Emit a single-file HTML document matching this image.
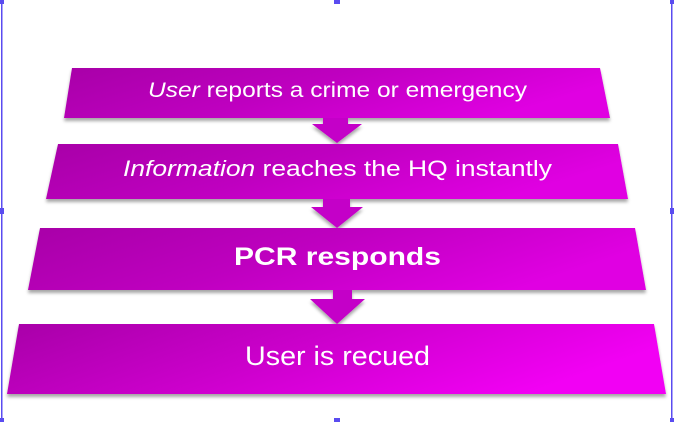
<!DOCTYPE html>
<html><head><meta charset="utf-8"><style>
html,body{margin:0;padding:0;background:#fff;}
svg{display:block;}
text{font-family:"Liberation Sans",sans-serif;fill:#fff;}
</style></head><body>
<svg width="674" height="422" viewBox="0 0 674 422">
<defs>
<linearGradient id="g" x1="0" y1="0" x2="1" y2="0.3">
<stop offset="0" stop-color="#a800a8"/><stop offset="0.5" stop-color="#bf00c0"/><stop offset="1" stop-color="#e000e2"/>
</linearGradient>
<linearGradient id="g4" x1="0" y1="0" x2="1" y2="0.3">
<stop offset="0" stop-color="#a800a8"/><stop offset="0.5" stop-color="#cc00cc"/><stop offset="1" stop-color="#f200f4"/>
</linearGradient>
<filter id="sh" x="-5%" y="-5%" width="110%" height="130%"><feDropShadow dx="0" dy="3" stdDeviation="1.5" flood-color="#000" flood-opacity="0.35"/></filter>
</defs>
<g fill="#5a4cf0">
<rect x="1" y="0" width="1.5" height="422"/>
<rect x="671" y="0" width="1.5" height="422"/>
<rect x="0" y="0" width="4" height="4"/><rect x="334" y="0" width="6" height="4"/><rect x="670" y="0" width="4" height="4"/>
<rect x="0" y="208" width="4" height="6"/><rect x="670" y="208" width="4" height="6"/>
<rect x="0" y="418" width="4" height="4"/><rect x="334" y="418" width="6" height="4"/><rect x="670" y="418" width="4" height="4"/>
</g>
<g filter="url(#sh)">
<polygon fill="#c400c8" points="323,110 348,110 348,124 362,124 337,143 312,124 323,124"/>
<polygon fill="#c400c8" points="323,195 350,195 350,207 363,207 337,228 311,207 323,207"/>
<polygon fill="#c400c8" points="333,285 352,285 352,299 365,299 337,324 310,299 333,299"/>
<polygon fill="url(#g)" points="72,68 600,68 610,118 64,118"/>
<polygon fill="url(#g)" points="58,144 618,144 628,199 46,199"/>
<polygon fill="url(#g)" points="40,228 635,228 646,290 28,290"/>
<polygon fill="url(#g4)" points="19,324 654,324 666,394 7,394"/>
</g>
<text x="148" y="97" font-size="21" textLength="379" lengthAdjust="spacingAndGlyphs"><tspan font-style="italic">User</tspan> reports a crime or emergency</text>
<text x="123" y="176" font-size="22" textLength="429" lengthAdjust="spacingAndGlyphs"><tspan font-style="italic">Information</tspan> reaches the HQ instantly</text>
<text x="234" y="265" font-size="25" font-weight="bold" textLength="207" lengthAdjust="spacingAndGlyphs">PCR responds</text>
<text x="245" y="365" font-size="27" textLength="185" lengthAdjust="spacingAndGlyphs">User is recued</text>
</svg>
</body></html>
